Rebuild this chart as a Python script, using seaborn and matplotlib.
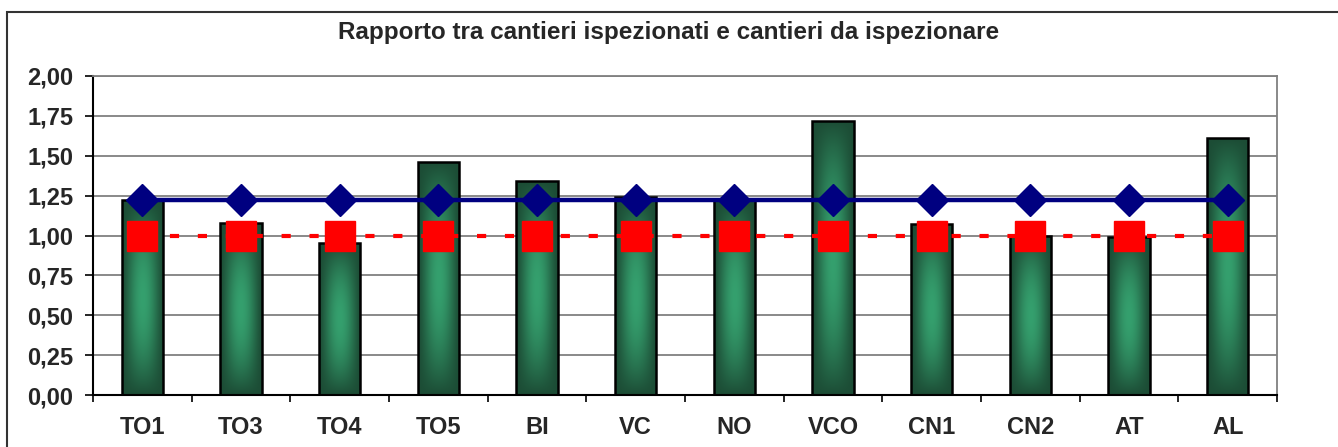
import numpy as np
import pandas as pd
import matplotlib
matplotlib.use("Agg")
import matplotlib.pyplot as plt
from matplotlib.patches import Rectangle
from matplotlib.colors import to_rgb
import seaborn as sns

categories = ["TO1", "TO3", "TO4", "TO5", "BI", "VC", "NO", "VCO", "CN1", "CN2", "AT", "AL"]
ratio = [1.22, 1.08, 0.95, 1.46, 1.34, 1.24, 1.22, 1.72, 1.07, 1.00, 0.99, 1.61]
media = [1.22] * 12
target = [1.00] * 12
yticks = [0.0, 0.25, 0.5, 0.75, 1.0, 1.25, 1.5, 1.75, 2.0]
title = "Rapporto tra cantieri ispezionati e cantieri da ispezionare"

sns.set_theme(style="white")
plt.rcParams["font.family"] = ["Liberation Sans", "DejaVu Sans"]
plt.rcParams["font.weight"] = "bold"

fig = plt.figure(figsize=(13.38, 4.47), dpi=100)
ax = fig.add_axes([93 / 1338, 52 / 447, (1277 - 93) / 1338, (395 - 76) / 447])

df = pd.DataFrame({"cat": categories, "val": ratio})
sns.barplot(data=df, x="cat", y="val", order=categories, width=0.42,
            facecolor="none", edgecolor="black", linewidth=1.8, ax=ax, zorder=3)

# gradient fill for each bar
dark = np.array(to_rgb("#1c4c35"))
light = np.array(to_rgb("#35a06e"))
nx, ny = 60, 120
xs = np.linspace(0, 1, nx)
ys = np.linspace(0, 1, ny)
fx = np.sin(np.pi * xs) ** 1.3
fy = np.sin(np.pi * ys) ** 0.9
t = np.outer(fy, fx)
img = dark[None, None, :] + (light - dark)[None, None, :] * t[:, :, None]
for p in ax.patches:
    x0, w, h = p.get_x(), p.get_width(), p.get_height()
    im = ax.imshow(img, extent=[x0, x0 + w, 0, h], aspect="auto",
                   origin="lower", zorder=2.5, interpolation="bilinear")
    im.set_clip_path(p)

pos = np.arange(len(categories))
ax.plot(pos, media, color="#000080", lw=3.2, marker="D", markersize=16,
        markerfacecolor="#000080", markeredgecolor="#000080", zorder=5)
ax.plot(pos, target, color="#ff0000", lw=3.0, linestyle=(0, (2.2, 4.5)),
        marker="s", markersize=21, markerfacecolor="#ff0000",
        markeredgecolor="#ff0000", zorder=6, dash_capstyle="butt")

ax.set_xlim(-0.5, len(categories) - 0.5)
ax.set_ylim(0, 2)
ax.set_yticks(yticks)
ax.set_yticklabels([f"{v:.2f}".replace(".", ",") for v in yticks])
ax.set_xticks(pos)
ax.set_xticklabels(categories)
ax.set_xticks(np.arange(-0.5, len(categories), 1), minor=True)
ax.set_xlabel("")
ax.set_ylabel("")

for v in yticks:
    ax.axhline(v, color="#808080", lw=1.3, zorder=1)

ax.tick_params(axis="y", which="major", length=6, width=1.2, color="black",
               direction="out", pad=8, labelsize=17, left=True)
ax.tick_params(axis="x", which="major", length=0, pad=15, labelsize=17)
ax.tick_params(axis="x", which="minor", length=5, width=1.2, color="black",
               direction="out", bottom=True)
for lab in ax.get_xticklabels() + ax.get_yticklabels():
    lab.set_fontweight("bold")

ax.spines["left"].set_color("black")
ax.spines["bottom"].set_color("black")
ax.spines["left"].set_linewidth(1.5)
ax.spines["bottom"].set_linewidth(1.5)
ax.spines["top"].set_color("#808080")
ax.spines["right"].set_color("#808080")
ax.spines["top"].set_linewidth(1.3)
ax.spines["right"].set_linewidth(1.3)

fig.text(669 / 1338, 1 - 32 / 447, title, ha="center", va="center",
         fontsize=17.5, fontweight="bold")

border = Rectangle((7 / 1338, -0.2), 1.2, 0.2 + 1 - 12 / 447, transform=fig.transFigure,
                   fill=False, edgecolor="#333333", lw=1.5, clip_on=False)
fig.patches.append(border)

fig.savefig("out.png", dpi=100)
